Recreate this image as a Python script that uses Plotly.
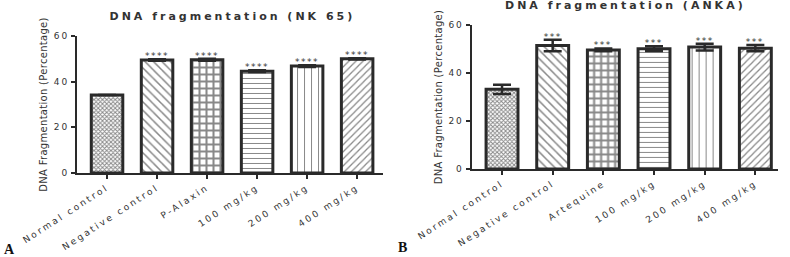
import plotly.graph_objects as go

cats_a = ["Normal control", "Negative control", "P-Alaxin", "100 mg/kg", "200 mg/kg", "400 mg/kg"]
vals_a = [34.2, 49.5, 49.6, 44.6, 46.8, 50.0]
err_a = [0.0, 0.3, 0.4, 0.4, 0.4, 0.3]
sig_a = ["", "****", "****", "****", "****", "****"]

cats_b = ["Normal control", "Negative control", "Artequine", "100 mg/kg", "200 mg/kg", "400 mg/kg"]
vals_b = [33.2, 51.4, 49.6, 50.1, 50.8, 50.3]
err_b = [1.9, 2.4, 0.6, 1.0, 1.4, 1.3]
sig_b = ["", "***", "***", "***", "***", "***"]

yticks = [0, 20, 40, 60]

shapes_pat = ["x", "\\", "+", "-", "|", "/"]
sizes_pat = [3, 6, 7, 5, 7, 5]
sol_pat = [0.55, 0.25, 0.5, 0.2, 0.15, 0.25]

DARK = "#2a2a2a"
FONT = "DejaVu Sans"
fig = go.Figure()

def add_panel(cats, vals, errs, sigs, xa, ya):
    xs = list(range(len(cats)))
    fig.add_trace(go.Bar(
        x=xs, y=vals, width=0.63, xaxis=xa, yaxis=ya,
        marker=dict(color="white", line=dict(color=DARK, width=3),
                    pattern=dict(shape=shapes_pat, size=sizes_pat, solidity=sol_pat,
                                 fgcolor="#111", bgcolor="white")),
        error_y=dict(type="data", array=errs, visible=True, color=DARK, thickness=2.5, width=9),
        showlegend=False))
    for i, s in enumerate(sigs):
        if s:
            fig.add_annotation(x=i, y=vals[i] + errs[i], text=s, xref=xa, yref=ya,
                               showarrow=False, yanchor="bottom", yshift=-4,
                               font=dict(size=9, color="#333", family=FONT))

add_panel(cats_a, vals_a, err_a, sig_a, "x", "y")
add_panel(cats_b, vals_b, err_b, sig_b, "x2", "y2")

axis_common = dict(showgrid=False, zeroline=False, showline=True, linecolor=DARK, linewidth=2,
                   ticks="outside", tickcolor=DARK, tickwidth=2, ticklen=4, automargin=False,
                   tickfont=dict(family=FONT, size=9, color="#333"))
ytitle = dict(text="DNA Fragmentation (Percentage)", font=dict(family=FONT, size=10, color="#333"), standoff=8)

fig.update_layout(
    width=790, height=257, margin=dict(l=0, r=0, t=0, b=0),
    paper_bgcolor="white", plot_bgcolor="white",
    xaxis=dict(domain=[0.0975, 0.485], anchor="y", range=[-0.6, 5.52],
               tickvals=list(range(6)), ticktext=cats_a, tickangle=-33, **axis_common),
    yaxis=dict(domain=[0.327, 0.860], anchor="x", range=[0, 60], tickvals=yticks,
               title=ytitle, **axis_common),
    xaxis2=dict(domain=[0.597, 0.985], anchor="y2", range=[-0.6, 5.45],
                tickvals=list(range(6)), ticktext=cats_b, tickangle=-33, **axis_common),
    yaxis2=dict(domain=[0.342, 0.903], anchor="x2", range=[0, 60], tickvals=yticks,
                title=ytitle, **axis_common),
)

fig.add_annotation(text="<b>DNA fragmentation (NK 65)</b>", xref="paper", yref="paper",
                   x=232/790, y=1 - 16/257, showarrow=False, xanchor="center", yanchor="middle",
                   font=dict(family=FONT, size=11, color="#333"))
fig.add_annotation(text="<b>DNA fragmentation (ANKA)</b>", xref="paper", yref="paper",
                   x=625/790, y=1 - 5/257, showarrow=False, xanchor="center", yanchor="middle",
                   font=dict(family=FONT, size=11, color="#333"))
fig.add_annotation(text="<b>A</b>", xref="paper", yref="paper", x=2/790, y=1 - 249/257,
                   xanchor="left", showarrow=False, yanchor="middle",
                   font=dict(family="Liberation Serif", size=14, color="#111"))
fig.add_annotation(text="<b>B</b>", xref="paper", yref="paper", x=396/790, y=1 - 247/257,
                   xanchor="left", showarrow=False, yanchor="middle",
                   font=dict(family="Liberation Serif", size=14, color="#111"))

post = """
document.body.style.margin='0';
document.body.style.overflow='hidden';
var st=document.createElement('style');
st.textContent='.xtick text,.x2tick text{letter-spacing:2.4px}.ytick text,.y2tick text{letter-spacing:2px}.ytitle,.y2title{letter-spacing:0.3px}';
document.head.appendChild(st);
document.querySelectorAll('.annotation-text').forEach(function(t){
  var s=t.textContent;
  if(s.indexOf('DNA')===0){t.style.letterSpacing='3px';}
  else if(s.indexOf('*')===0){t.style.letterSpacing='1.5px';}
});
"""
fig.write_html("out.html", post_script=post, config={"displayModeBar": False})
